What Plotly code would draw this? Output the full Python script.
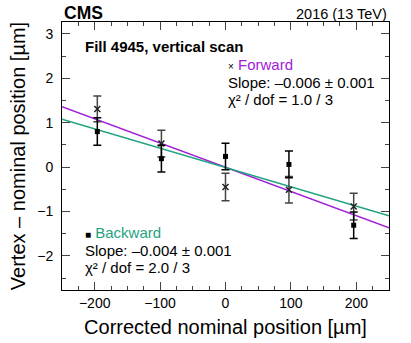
#!/usr/bin/env python3

# Libraries
import plotly.graph_objects as go

# Scan positions [um]
positions = [-196, -98, 0, 97, 196]

# Forward scan: vertex - nominal [um] and errors
fwd_y   = [1.31, 0.53, -0.45, -0.51, -0.89]
fwd_err = [0.29, 0.30, 0.31, 0.30, 0.30]

# Backward scan
bwd_y   = [0.80, 0.19, 0.24, 0.06, -1.31]
bwd_err = [0.31, 0.30, 0.30, 0.30, 0.30]

# Fit lines read at the plot edges
fit_x     = [-250, 250]
fwd_fit_y = [1.36, -1.37]
bwd_fit_y = [1.08, -1.10]

# Fit result texts
fwd_text = ['Slope: –0.006 ± 0.001', 'χ² / dof = 1.0 / 3']
bwd_text = ['Slope: –0.004 ± 0.001', 'χ² / dof = 2.0 / 3']

# Colours
purple = '#a020d8'
green  = '#1fa37f'

# Create figure
fig = go.Figure()

# Fit lines
fig.add_trace(go.Scatter(x = fit_x, y = fwd_fit_y, mode = 'lines',
                         line = dict(color = purple, width = 1.5), showlegend = False))
fig.add_trace(go.Scatter(x = fit_x, y = bwd_fit_y, mode = 'lines',
                         line = dict(color = green, width = 1.5), showlegend = False))

# Data points with error bars
fig.add_trace(go.Scatter(
    x = positions, y = fwd_y, mode = 'markers',
    marker = dict(symbol = 'x-thin', size = 6, line = dict(color = '#222222', width = 1.5)),
    error_y = dict(type = 'data', array = fwd_err, color = '#444444', thickness = 1.5, width = 4),
    showlegend = False
))
fig.add_trace(go.Scatter(
    x = positions, y = bwd_y, mode = 'markers',
    marker = dict(symbol = 'square', size = 5, color = 'black'),
    error_y = dict(type = 'data', array = bwd_err, color = 'black', thickness = 1.5, width = 4),
    showlegend = False
))

# Text labels
def label(text, x, y, size = 15, anchor = 'left'):
    return dict(text = text, x = x, y = y, xref = 'paper', yref = 'paper',
                xanchor = anchor, yanchor = 'middle', showarrow = False,
                font = dict(family = 'Liberation Sans', size = size, color = 'black'))

annotations = [
    dict(text = '<b>CMS</b>', x = 0, y = 1.0, xref = 'paper', yref = 'paper',
         xanchor = 'left', yanchor = 'bottom', showarrow = False, yshift = -3,
         font = dict(family = 'Liberation Sans', size = 17.5, color = 'black')),
    dict(text = '2016 (13 TeV)', x = 1, y = 1.0, xref = 'paper', yref = 'paper',
         xanchor = 'right', yanchor = 'bottom', showarrow = False, yshift = -2,
         font = dict(family = 'Liberation Sans', size = 14.5, color = 'black')),
    label('<b>Fill 4945, vertical scan</b>', 0.064, 0.91, size = 15),

    label('<span style="font-size:10px">×</span> <span style="color:%s">Forward</span>' % purple, 0.5, 0.8396),
    label(fwd_text[0], 0.5, 0.776),
    label(fwd_text[1], 0.5, 0.709),

    label('<span style="font-size:10px">■</span> <span style="color:%s">Backward</span>' % green, 0.064, 0.2164),
    label(bwd_text[0], 0.064, 0.149),
    label(bwd_text[1], 0.064, 0.0858),
]

# Update layout
fig.update_layout(
    width  = 411,
    height = 343,

    xaxis = dict(
        title     = dict(text = 'Corrected nominal position [µm]', font = dict(size = 20), standoff = 10),
        range     = [-250, 250],
        tickmode  = 'linear',
        tick0     = 0,
        dtick     = 100,
        ticks     = 'inside',
        ticklen   = 8,
        tickwidth = 1,
        minor     = dict(ticks = 'inside', ticklen = 4, dtick = 25, tick0 = 0),
        showgrid  = False,
        zeroline  = False,
        showline  = True,
        linecolor = 'black',
        linewidth = 1,
        mirror    = 'allticks',
        automargin = False,
        tickfont  = dict(size = 14)
    ),

    yaxis = dict(
        title     = dict(text = 'Vertex – nominal position [µm]', font = dict(size = 20), standoff = 6),
        range     = [-2.77, 3.27],
        tickmode  = 'linear',
        tick0     = 0,
        dtick     = 1,
        ticks     = 'inside',
        ticklen   = 8,
        tickwidth = 1,
        ticklabelstandoff = 5,
        minor     = dict(ticks = 'inside', ticklen = 4, dtick = 0.5, tick0 = 0),
        showgrid  = False,
        zeroline  = False,
        showline  = True,
        linecolor = 'black',
        linewidth = 1,
        mirror    = 'allticks',
        automargin = False,
        tickfont  = dict(size = 14)
    ),

    annotations = annotations,

    plot_bgcolor  = 'white',
    paper_bgcolor = 'white',
    font = dict(
        family = 'Liberation Sans',
        size   = 12,
        color  = 'black'
    ),

    margin = dict(l = 62, r = 22, t = 22, b = 53),
    template = None
)

# Drop the default page margin so the figure sits at the window corner
fig.write_html('out.html', config = dict(displayModeBar = False),
               post_script = "document.body.style.margin = '0';")
